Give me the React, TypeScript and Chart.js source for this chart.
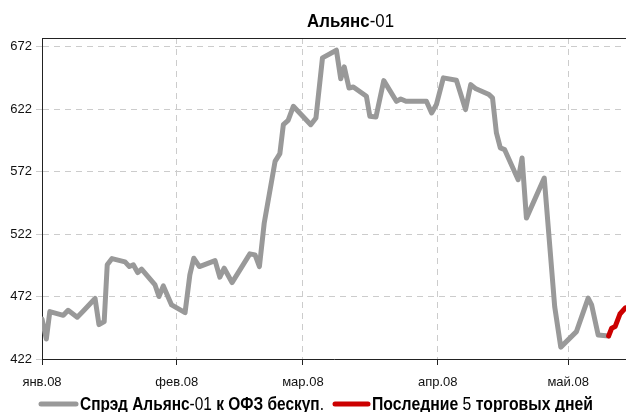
import React, { useEffect, useRef } from "react";
import { Chart, registerables } from "chart.js";

Chart.register(...registerables);

// ---------- data ----------
const chartTitle = "Альянс-01";
const seriesName = "Спрэд Альянс-01 к ОФЗ бескуп.";
const lastName = "Последние 5 торговых дней";

const monthLabels = ["янв.08", "фев.08", "мар.08", "апр.08", "май.08"];
const monthStartDays = [0, 31, 60, 91, 121]; // days since 1 Jan 2008
const yTickValues = [422, 472, 522, 572, 622, 672];

// day offset from 1 Jan 2008
const days = [
  0, 1, 1.8, 4.9, 6, 8.1, 9.5, 12.2, 13.1, 14.3, 15, 16.1, 19.1, 20.1, 21, 22,
  22.9, 26, 26.9, 27.9, 29.8, 32.9, 34, 34.9, 36.2, 39.8, 40.9, 41.9, 43.7,
  47.8, 49, 50, 51.1, 53.6, 54.7, 55.5, 56.6, 57.8, 61.8, 63, 64.5, 67.7, 68.7,
  69.5, 70.6, 71.6, 74.6, 75.4, 76.8, 78.6, 81.5, 82.5, 83.7, 88.4, 89.6, 90.7,
  92.3, 95.3, 97.4, 98.6, 99.8, 102.8, 103.6, 104.5, 105.4, 106.4, 109.5,
  110.4, 111.4, 115.5, 117.9, 119.3, 122.9, 125.6, 126.4, 127.9, 130.3,
];
const spread = [
  454, 438, 460, 457, 461, 455.5, 460.5, 470.5, 449.5, 452, 497.4, 502.4,
  499.8, 496, 497.4, 491.2, 494, 481.3, 472, 480.5, 465.3, 459.1, 489.4, 502.7,
  496, 500.8, 487.5, 494.7, 483.2, 506.2, 505.4, 496, 530.8, 580.2, 586.4,
  609.6, 613.1, 624.3, 609.6, 615, 663.1, 669.2, 646.3, 655.9, 639, 639.8,
  632.4, 616.3, 615.8, 644.9, 628.3, 630.2, 628.3, 628.3, 619, 625.7, 647.1,
  645.2, 621.7, 641.7, 638.3, 633.7, 631.1, 603, 591, 589.6, 565.5, 583, 534.8,
  566.9, 463.9, 431.5, 443.9, 470.7, 465.3, 441.2, 440.4,
];

const lastDays = [130.3, 131.0, 131.8, 132.9, 134.2];
const lastSpread = [440.4, 446.6, 448, 458, 463];

// ---------- styling ----------
const FAM = "'Liberation Sans', Arial, sans-serif";
const GREY = "#999999";
const RED = "#cc0000";

function runsOf(text: string) {
  const parts = text.split(/([0-9.\-]+)/).filter((p) => p.length > 0);
  return parts.map((p) => ({ t: p, bold: !/^[0-9.\-]+$/.test(p) }));
}

function fontFor(bold: boolean, size: number) {
  return `${bold ? "bold " : ""}${size}px ${FAM}`;
}

function measureMixed(ctx: CanvasRenderingContext2D, text: string, size: number) {
  let w = 0;
  for (const r of runsOf(text)) {
    ctx.font = fontFor(r.bold, size);
    w += ctx.measureText(r.t).width;
  }
  return w;
}

// draws text condensed horizontally so that it spans `width` pixels
function drawMixedFit(
  ctx: CanvasRenderingContext2D,
  text: string,
  x: number,
  y: number,
  size: number,
  width: number
) {
  const natural = measureMixed(ctx, text, size);
  const sx = width / natural;
  ctx.save();
  ctx.translate(x, y);
  ctx.scale(sx, 1);
  ctx.textBaseline = "alphabetic";
  ctx.textAlign = "left";
  ctx.fillStyle = "#000";
  let cx = 0;
  for (const r of runsOf(text)) {
    ctx.font = fontFor(r.bold, size);
    ctx.fillText(r.t, cx, 0);
    cx += ctx.measureText(r.t).width;
  }
  ctx.restore();
  return x + width;
}

const decorPlugin = {
  id: "decor",
  afterDraw(chart: any) {
    const ctx: CanvasRenderingContext2D = chart.ctx;
    const area = chart.chartArea;
    ctx.save();
    // top frame line
    ctx.strokeStyle = "#222";
    ctx.lineWidth = 1;
    ctx.beginPath();
    ctx.moveTo(area.left, area.top + 0.5);
    ctx.lineTo(area.right, area.top + 0.5);
    ctx.stroke();

    // title
    drawMixedFit(ctx, chartTitle, 307, 27, 18.5, 87);

    // legend
    const lSize = 18;
    const ly = 410;
    const lineY = 404;
    const items = [
      { name: seriesName, color: GREY, sx: 39, ex: 78, tx: 80, tw: 244 },
      { name: lastName, color: RED, sx: 333, ex: 370, tx: 372, tw: 221 },
    ];
    items.forEach((it) => {
      ctx.strokeStyle = it.color;
      ctx.lineWidth = 5;
      ctx.lineCap = "round";
      ctx.beginPath();
      ctx.moveTo(it.sx + 2, lineY);
      ctx.lineTo(it.ex - 2, lineY);
      ctx.stroke();
      drawMixedFit(ctx, it.name, it.tx, ly, lSize, it.tw);
    });
    ctx.restore();
  },
};

export default function App() {
  const ref = useRef<HTMLCanvasElement | null>(null);

  useEffect(() => {
    document.body.style.margin = "0";
    const canvas = ref.current;
    if (!canvas) return;

    const chart = new Chart(canvas, {
      type: "line",
      data: {
        datasets: [
          {
            label: lastName,
            data: lastDays.map((d, i) => ({ x: d, y: lastSpread[i] })),
            borderColor: RED,
            backgroundColor: RED,
            borderWidth: 5,
            pointRadius: 0,
            tension: 0,
            borderJoinStyle: "round",
            borderCapStyle: "round",
            order: 0,
          },
          {
            label: seriesName,
            data: days.map((d, i) => ({ x: d, y: spread[i] })),
            borderColor: GREY,
            backgroundColor: GREY,
            borderWidth: 5,
            pointRadius: 0,
            tension: 0,
            borderJoinStyle: "round",
            borderCapStyle: "round",
            order: 1,
          },
        ],
      },
      options: {
        responsive: false,
        animation: false,
        events: [],
        layout: { padding: { top: 38, left: 0, right: 0, bottom: 0 } },
        plugins: {
          legend: { display: false },
          title: { display: false },
          tooltip: { enabled: false },
        },
        scales: {
          x: {
            type: "linear",
            min: 0,
            max: 134.3,
            afterBuildTicks: (scale: any) => {
              scale.ticks = monthStartDays.map((v) => ({ value: v }));
            },
            afterFit: (scale: any) => {
              scale.height = 53;
            },
            ticks: {
              autoSkip: false,
              maxRotation: 0,
              padding: 10,
              color: "#111",
              font: { family: FAM, size: 13 },
              callback: (v: any) => {
                const i = monthStartDays.indexOf(Number(v));
                return i >= 0 ? monthLabels[i] : "";
              },
            },
            grid: {
              color: "#cccccc",
              lineWidth: 1,
              tickColor: "#222",
              tickLength: 6,
            },
            border: { display: true, color: "#222", width: 1, dash: [6, 5] },
          },
          y: {
            type: "linear",
            min: 422,
            max: 679,
            afterBuildTicks: (scale: any) => {
              scale.ticks = yTickValues.map((v) => ({ value: v }));
            },
            afterFit: (scale: any) => {
              scale.width = 42;
            },
            ticks: {
              padding: 4,
              color: "#111",
              font: { family: FAM, size: 13 },
            },
            grid: {
              color: "#cccccc",
              lineWidth: 1,
              tickLength: 6,
            },
            border: { display: true, color: "#222", width: 1, dash: [6, 5] },
          },
        },
      },
      plugins: [decorPlugin],
    } as any);

    return () => chart.destroy();
  }, []);

  return (
    <div style={{ width: 626, height: 412, position: "relative" }}>
      <canvas ref={ref} width={626} height={412} />
    </div>
  );
}
